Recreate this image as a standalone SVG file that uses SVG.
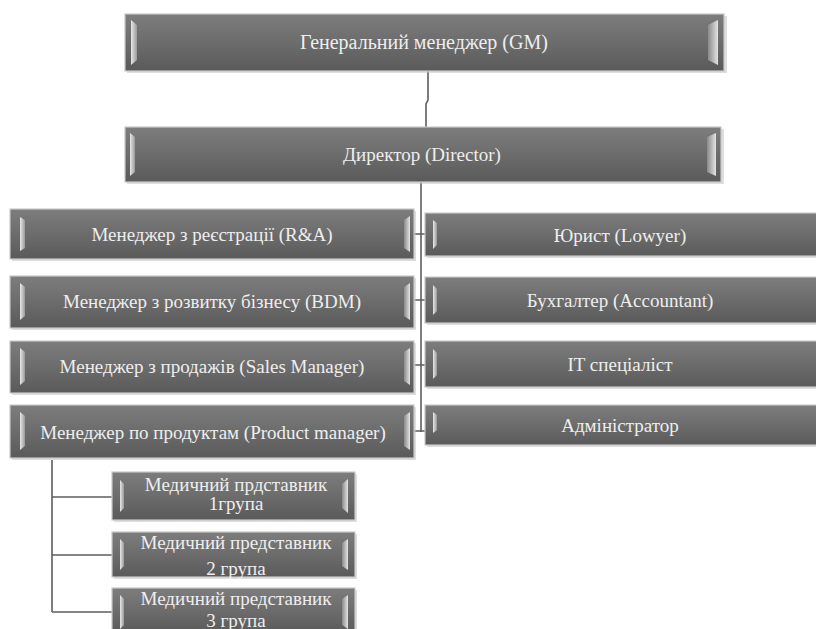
<svg xmlns="http://www.w3.org/2000/svg" width="816" height="629" viewBox="0 0 816 629">
<defs>
<linearGradient id="fill" x1="0" y1="0" x2="0" y2="1">
<stop offset="0" stop-color="#7d7d7d"/>
<stop offset="0.5" stop-color="#6c6c6c"/>
<stop offset="1" stop-color="#5a5a5a"/>
</linearGradient>
<linearGradient id="bev" x1="0" y1="0" x2="1" y2="0">
<stop offset="0" stop-color="#e8e8e8"/>
<stop offset="1" stop-color="#9a9a9a"/>
</linearGradient>
<linearGradient id="bevr" x1="0" y1="0" x2="1" y2="0">
<stop offset="0" stop-color="#8a8a8a"/>
<stop offset="1" stop-color="#e4e4e4"/>
</linearGradient>
</defs>
<style>
.box{fill:url(#fill);stroke:#c9c9c9;stroke-width:1.2}
.sh{fill:#bdbdbd;opacity:0.5}
.bl{fill:url(#bev)}
.br{fill:url(#bevr)}
.t{font-family:'Liberation Serif','DejaVu Serif',serif;font-size:19px;fill:#eeeeee;text-anchor:middle}
.c{stroke:#5e5e5e;stroke-width:1.6;fill:none}
</style>
<rect width="816" height="629" fill="#ffffff"/>
<g id="connectors">
<path class="c" d="M428 71 V100 L426 104 V127"/>
<path class="c" d="M421 182 V432"/>
<path class="c" d="M414 234 H428 M414 300 H428 M414 365 H428 M414 431 H428"/>
<path class="c" d="M52 460 V612 M52 497 H112 M52 555 H112 M52 612 H112"/>
</g>
<g id="gm">
<rect class="sh" x="127" y="16" width="600" height="57"/>
<rect class="box" x="125" y="14" width="599" height="57"/>
<polygon class="bl" points="131,20 137,25 137,60 131,65"/>
<polygon class="br" points="708,25 718,20 718,65 708,60"/>
<text class="t" x="424" y="49" style="font-size:20px">Генеральний менеджер (GM)</text>
</g>
<g id="director">
<rect class="sh" x="127" y="129" width="597" height="55"/>
<rect class="box" x="125" y="127" width="596" height="55"/>
<polygon class="bl" points="130,133 135,137 135,172 130,176"/>
<polygon class="br" points="707,137 716,133 716,176 707,172"/>
<text class="t" x="422" y="161">Директор (Director)</text>
</g>
<g id="ra">
<rect class="sh" x="12" y="211" width="404" height="50"/>
<rect class="box" x="10" y="209" width="404" height="50"/>
<polygon class="bl" points="20,217 25,220 25,248 20,251"/>
<polygon class="br" points="404,220 410,216 410,252 404,248"/>
<text class="t" x="212" y="241">Менеджер з реєстрації (R&amp;A)</text>
</g>
<g id="bdm">
<rect class="sh" x="12" y="278" width="404" height="52"/>
<rect class="box" x="10" y="276" width="404" height="52"/>
<polygon class="bl" points="20,283 25,287 25,316 20,320"/>
<polygon class="br" points="404,287 410,283 410,320 404,316"/>
<text class="t" x="212" y="308">Менеджер з розвитку бізнесу (BDM)</text>
</g>
<g id="sales">
<rect class="sh" x="12" y="343" width="404" height="52"/>
<rect class="box" x="10" y="341" width="404" height="52"/>
<polygon class="bl" points="20,348 25,352 25,381 20,385"/>
<polygon class="br" points="404,352 410,348 410,385 404,381"/>
<text class="t" x="212" y="373">Менеджер з продажів (Sales Manager)</text>
</g>
<g id="product">
<rect class="sh" x="12" y="407" width="404" height="53"/>
<rect class="box" x="10" y="405" width="404" height="53"/>
<polygon class="bl" points="20,412 25,416 25,446 20,450"/>
<polygon class="br" points="404,416 410,412 410,450 404,446"/>
<text class="t" x="213" y="439">Менеджер по продуктам (Product manager)</text>
</g>
<g id="lawyer">
<rect class="sh" x="427" y="215" width="391" height="43"/>
<rect class="box" x="425" y="213" width="393" height="43"/>
<polygon class="bl" points="433,220 437,223 437,245 433,249"/>
<text class="t" x="620" y="242">Юрист (Lowyer)</text>
</g>
<g id="accountant">
<rect class="sh" x="427" y="279" width="391" height="46"/>
<rect class="box" x="425" y="277" width="393" height="46"/>
<polygon class="bl" points="433,285 437,289 437,311 433,315"/>
<text class="t" x="620" y="307">Бухгалтер (Accountant)</text>
</g>
<g id="it">
<rect class="sh" x="427" y="343" width="391" height="46"/>
<rect class="box" x="425" y="341" width="393" height="46"/>
<polygon class="bl" points="433,349 437,353 437,375 433,379"/>
<text class="t" x="620" y="371">IT спеціаліст</text>
</g>
<g id="admin">
<rect class="sh" x="427" y="407" width="391" height="40"/>
<rect class="box" x="425" y="405" width="393" height="40"/>
<polygon class="bl" points="433,412 437,415 437,430 433,433"/>
<text class="t" x="620" y="432">Адміністратор</text>
</g>
<g id="med1">
<rect class="sh" x="114" y="474" width="243" height="48"/>
<rect class="box" x="112" y="472" width="243" height="48"/>
<polygon class="bl" points="120,480 124,484 124,508 120,512"/>
<polygon class="br" points="342,484 348,479 348,513 342,508"/>
<text class="t" x="236" y="491">Медичний прдставник</text>
<text class="t" x="236" y="510">1група</text>
</g>
<g id="med2">
<rect class="sh" x="114" y="534" width="243" height="45"/>
<rect class="box" x="112" y="532" width="243" height="45"/>
<polygon class="bl" points="120,539 124,543 124,566 120,570"/>
<polygon class="br" points="342,543 348,539 348,570 342,566"/>
<text class="t" x="236" y="549">Медичний представник</text>
<text class="t" x="236" y="575">2 група</text>
</g>
<g id="med3">
<rect class="sh" x="114" y="590" width="243" height="45"/>
<rect class="box" x="112" y="588" width="243" height="45"/>
<polygon class="bl" points="120,595 124,599 124,625 120,629"/>
<polygon class="br" points="342,599 348,595 348,629 342,625"/>
<text class="t" x="236" y="605">Медичний представник</text>
<text class="t" x="236" y="627">3 група</text>
</g>
</svg>
